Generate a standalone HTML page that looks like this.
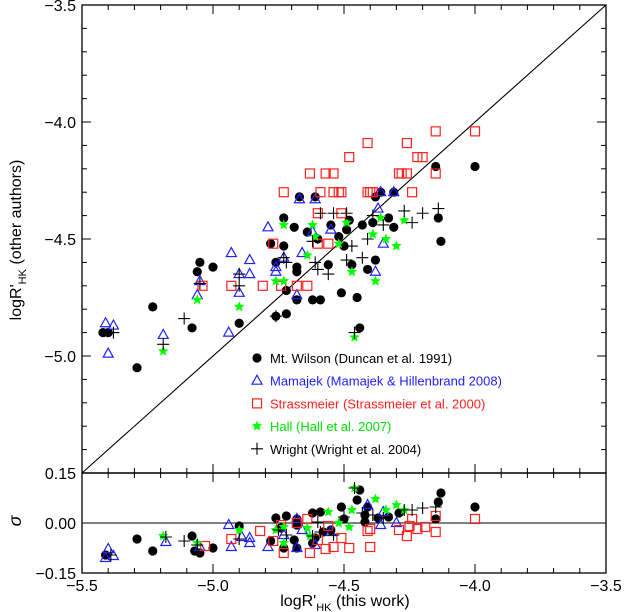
<!DOCTYPE html>
<html><head><meta charset="utf-8"><style>
body{margin:0;background:#fff}
svg{display:block;font-family:"Liberation Sans",sans-serif}
</style></head><body>
<svg id="chart" width="626" height="612" viewBox="0 0 626 612" xmlns="http://www.w3.org/2000/svg">
<rect width="626" height="612" fill="#fff"/>
<g id="axes"></g>
<g id="marks"></g>
<g id="legend"></g>
<text transform="translate(21,240) rotate(-90)" text-anchor="middle" font-size="16">logR'<tspan font-size="11" dy="5">HK</tspan><tspan dy="-5"> (other authors)</tspan></text>
<text transform="translate(21,521) rotate(-90)" text-anchor="middle" font-size="18" font-style="italic">σ</text>
<text x="345" y="606" text-anchor="middle" font-size="16">logR'<tspan font-size="11" dy="5">HK</tspan><tspan dy="-5"> (this work)</tspan></text>
</svg>
<script>
// ---- data ----
const mwX=[-5.42,-5.40,-5.29,-5.23,-5.08,-5.06,-5.05,-5.00,-4.90,-4.78,-4.76,-4.73,-4.73,-4.72,-4.76,-4.72,-4.69,-4.68,-4.68,-4.68,-4.67,-4.62,-4.59,-4.61,-4.64,-4.60,-4.56,-4.55,-4.52,-4.51,-4.49,-4.48,-4.50,-4.47,-4.45,-4.41,-4.38,-4.43,-4.39,-4.38,-4.36,-4.31,-4.33,-4.31,-4.14,-4.13,-4.15,-4.00,-4.44];
const mwY=[-4.90,-4.90,-5.05,-4.79,-4.88,-4.64,-4.60,-4.62,-4.86,-4.52,-4.60,-4.41,-4.53,-4.72,-4.83,-4.82,-4.45,-4.62,-4.64,-4.76,-4.32,-4.76,-4.76,-4.32,-4.47,-4.50,-4.61,-4.44,-4.49,-4.73,-4.46,-4.42,-4.53,-4.61,-4.75,-4.63,-4.59,-4.44,-4.43,-4.32,-4.30,-4.30,-4.41,-4.45,-4.41,-4.51,-4.19,-4.19,-4.88];
const mjX=[-5.41,-5.38,-5.40,-5.19,-5.06,-5.05,-4.93,-4.90,-4.90,-4.86,-4.86,-4.94,-4.79,-4.76,-4.76,-4.73,-4.68,-4.67,-4.66,-4.61,-4.62,-4.55,-4.37,-4.36,-4.31,-4.35,-4.38];
const mjY=[-4.86,-4.87,-4.99,-4.91,-4.74,-4.68,-4.56,-4.65,-4.73,-4.59,-4.65,-4.90,-4.45,-4.62,-4.64,-4.58,-4.74,-4.33,-4.56,-4.33,-4.47,-4.46,-4.37,-4.30,-4.30,-4.52,-4.64];
const stX=[-4.15,-4.00,-4.41,-4.26,-4.48,-4.22,-4.20,-4.63,-4.57,-4.54,-4.29,-4.28,-4.26,-4.15,-4.73,-4.59,-4.54,-4.52,-4.51,-4.41,-4.40,-4.39,-4.24,-4.60,-4.51,-4.77,-4.60,-4.56,-5.04,-4.93,-4.81,-4.74,-4.68,-4.64];
const stY=[-4.04,-4.04,-4.09,-4.09,-4.15,-4.15,-4.15,-4.22,-4.22,-4.22,-4.22,-4.22,-4.22,-4.22,-4.30,-4.30,-4.30,-4.30,-4.30,-4.30,-4.30,-4.30,-4.30,-4.39,-4.39,-4.52,-4.52,-4.52,-4.70,-4.70,-4.70,-4.70,-4.70,-4.70];
const haX=[-5.19,-5.06,-4.90,-4.76,-4.73,-4.73,-4.64,-4.62,-4.61,-4.49,-4.52,-4.47,-4.39,-4.34,-4.30,-4.36,-4.27,-4.38,-4.46];
const haY=[-4.98,-4.76,-4.79,-4.68,-4.68,-4.44,-4.57,-4.44,-4.49,-4.43,-4.52,-4.64,-4.48,-4.50,-4.53,-4.41,-4.42,-4.68,-4.92];
const wrX=[-5.11,-5.19,-5.05,-4.90,-4.90,-4.73,-4.72,-4.61,-4.60,-4.56,-4.62,-4.59,-4.54,-4.49,-5.38,-4.76,-4.49,-4.47,-4.43,-4.41,-4.39,-4.35,-4.27,-4.20,-4.14,-4.24,-4.46];
const wrY=[-4.84,-4.95,-4.69,-4.65,-4.70,-4.58,-4.60,-4.60,-4.63,-4.65,-4.51,-4.39,-4.39,-4.39,-4.90,-4.83,-4.59,-4.53,-4.58,-4.50,-4.40,-4.44,-4.38,-4.39,-4.37,-4.43,-4.90];
// residuals
const rmwX=[-5.41,-5.29,-5.23,-5.08,-5.07,-5.05,-5.00,-4.90,-4.78,-4.76,-4.72,-4.74,-4.69,-4.68,-4.68,-4.73,-4.62,-4.59,-4.62,-4.58,-4.51,-4.50,-4.45,-4.44,-4.42,-4.42,-4.41,-4.37,-4.33,-4.29,-4.14,-4.13,-4.15,-4.00,-4.68,-4.61,-4.55];
const rmwY=[-0.096,-0.048,-0.084,-0.039,-0.084,-0.09,-0.075,-0.009,-0.054,0.015,0.021,-0.015,-0.051,-0.006,0.012,-0.075,0.03,0.033,-0.06,-0.027,0.048,0.012,0.069,0.099,0.024,0.003,0.048,0.015,0.018,0.03,0.063,0.09,0.012,0.048,-0.075,-0.045,-0.021];
const rmjX=[-5.41,-5.40,-5.38,-5.18,-5.05,-4.94,-4.93,-4.89,-4.86,-4.86,-4.79,-4.73,-4.68,-4.68,-4.66,-4.61,-4.55,-4.41,-4.36,-4.35,-4.30];
const rmjY=[-0.105,-0.078,-0.099,-0.057,-0.072,-0.006,-0.072,-0.042,-0.045,-0.06,-0.072,-0.036,0.012,-0.075,-0.021,-0.066,-0.027,0.054,-0.006,0.033,0.0];
const rstX=[-5.03,-4.93,-4.82,-4.77,-4.74,-4.73,-4.68,-4.64,-4.63,-4.60,-4.57,-4.56,-4.54,-4.51,-4.48,-4.41,-4.40,-4.40,-4.29,-4.26,-4.25,-4.24,-4.22,-4.19,-4.15,-4.15,-4.00];
const rstY=[-0.069,-0.048,-0.024,-0.054,-0.006,-0.09,0.0,0.012,-0.09,-0.051,-0.078,-0.009,-0.072,-0.045,-0.075,-0.024,-0.072,-0.018,-0.021,-0.039,-0.009,0.012,-0.018,-0.012,0.021,-0.027,0.012];
const rhaX=[-5.19,-5.06,-4.90,-4.76,-4.73,-4.73,-4.64,-4.63,-4.56,-4.52,-4.48,-4.46,-4.47,-4.38,-4.30,-4.34,-4.27];
const rhaY=[-0.039,-0.06,-0.021,-0.021,-0.012,-0.06,-0.015,-0.039,0.033,0.0,-0.012,0.105,0.039,0.072,0.054,0.039,0.039];
const rwrX=[-5.39,-5.18,-5.11,-5.06,-4.90,-4.75,-4.72,-4.60,-4.59,-4.54,-4.50,-4.46,-4.43,-4.39,-4.35,-4.27,-4.24,-4.20,-4.15,-4.62];
const rwrY=[-0.096,-0.042,-0.054,-0.066,-0.048,-0.021,-0.036,0.003,-0.027,-0.036,0.018,0.105,0.03,0.024,0.015,0.039,0.039,0.045,0.048,-0.039];
const xTicks=[-5.5,-5.0,-4.5,-4.0,-3.5];
const xTickLabels=["−5.5","−5.0","−4.5","−4.0","−3.5"];
const yTicks=[-3.5,-4.0,-4.5,-5.0];
const yTickLabels=["−3.5","−4.0","−4.5","−5.0"];
const rTicks=[0.15,0.0,-0.15];
const rTickLabels=["0.15","0.00","−0.15"];
const legendLabels=["Mt. Wilson (Duncan et al. 1991)","Mamajek (Mamajek & Hillenbrand 2008)","Strassmeier (Strassmeier et al. 2000)","Hall (Hall et al. 2007)","Wright (Wright et al. 2004)"];

// ---- scales ----
const L=82,R=606,T=5,MB=473,BB=573;
const sx=v=>L+(v+5.5)*(R-L)/2;
const sy=v=>T+(-3.5-v)*(MB-T)/2;
const sr=v=>523-v*(50/0.15);
const NS="http://www.w3.org/2000/svg";
function mk(tag,parent,attrs){const e=document.createElementNS(NS,tag);for(const k in attrs)e.setAttribute(k,attrs[k]);parent.appendChild(e);return e;}
const ax=document.getElementById('axes'),mg=document.getElementById('marks'),lg=document.getElementById('legend');

// frames
let f1=mk('rect',ax,{x:L,y:T,width:R-L,height:MB-T,fill:'none',stroke:'#000','stroke-width':1.3});


let f2=mk('rect',ax,{x:L,y:MB,width:R-L,height:BB-MB,fill:'none',stroke:'#000','stroke-width':1.3});


let diag=mk('line',ax,{x1:sx(-5.5),y1:sy(-5.5),x2:sx(-3.5),y2:sy(-3.5),stroke:'#000','stroke-width':1.1});


let zl=mk('line',ax,{x1:L,y1:sr(0),x2:R,y2:sr(0),stroke:'#000','stroke-width':1.1});



// x ticks
for(let i=0;i<=20;i++){const v=-5.5+i*0.1,x=sx(v),maj=i%5===0,len=maj?9:5;
 for(const [y0,d] of [[T,1],[MB,-1],[MB,1],[BB,-1]]){
  let t=mk('line',ax,{x1:x,y1:y0,x2:x,y2:y0+d*len,stroke:'#000','stroke-width':1});
  
  }}
xTicks.forEach((v,i)=>{let t=mk('text',ax,{x:sx(v),y:591,'text-anchor':'middle','font-size':16});t.textContent=xTickLabels[i];
 
 });
// y ticks main
for(let i=0;i<=20;i++){const v=-3.5-i*0.1,y=sy(v),maj=i%5===0,len=maj?9:5;
 for(const [x0,d] of [[L,1],[R,-1]]){
  let t=mk('line',ax,{x1:x0,y1:y,x2:x0+d*len,y2:y,stroke:'#000','stroke-width':1});
  
  }}
yTicks.forEach((v,i)=>{let t=mk('text',ax,{x:76,y:sy(v)+6,'text-anchor':'end','font-size':16});t.textContent=yTickLabels[i];
 
 });
rTicks.forEach((v,i)=>{const y=sr(v);
 for(const [x0,d] of [[L,1],[R,-1]]){let t=mk('line',ax,{x1:x0,y1:y,x2:x0+d*9,y2:y,stroke:'#000','stroke-width':1});
  
  }
 let t=mk('text',ax,{x:76,y:y+6,'text-anchor':'end','font-size':16});t.textContent=rTickLabels[i];
 
 });

// markers
const BLUE='#2020ff',RED='#ff2020',GREEN='#00ff00';
function star(cx,cy,r){let p=[];for(let i=0;i<10;i++){const a=-Math.PI/2+i*Math.PI/5,rr=i%2?r*0.45:r;p.push((cx+rr*Math.cos(a)).toFixed(1)+','+(cy+rr*Math.sin(a)).toFixed(1));}return p.join(' ');}
function marker(type,x,y,parent){
 let e;
 if(type===0)e=mk('circle',parent,{cx:x,cy:y,r:4.6,fill:'#000'});
 else if(type===1)e=mk('polygon',parent,{points:`${x},${y-5.5} ${x-5},${y+3.5} ${x+5},${y+3.5}`,fill:'none',stroke:BLUE,'stroke-width':1.2});
 else if(type===2)e=mk('rect',parent,{x:x-4.5,y:y-4.5,width:9,height:9,fill:'none',stroke:RED,'stroke-width':1.2});
 else if(type===3)e=mk('polygon',parent,{points:star(x,y,5.5),fill:GREEN});
 else e=mk('path',parent,{d:`M${x-6},${y}H${x+6}M${x},${y-6}V${y+6}`,stroke:'#000','stroke-width':1.1});
 return e;}
const names=['mt-wilson-point','mamajek-point','strassmeier-point','hall-point','wright-point'];
const mainSets=[[mwX,mwY],[mjX,mjY],[stX,stY],[hqX=haX,haY],[wrX,wrY]];
const resSets=[[rmwX,rmwY],[rmjX,rmjY],[rstX,rstY],[rhaX,rhaY],[rwrX,rwrY]];
mainSets.forEach((s,k)=>s[0].forEach((v,i)=>{const e=marker(k,sx(v),sy(s[1][i]),mg);
 
 }));
resSets.forEach((s,k)=>s[0].forEach((v,i)=>{const e=marker(k,sx(v),sr(s[1][i]),mg);
 
 }));

// legend
const lcol=['#000',BLUE,RED,'#00e000','#000'];
legendLabels.forEach((s,k)=>{const y=358+k*22.7;
 const m=marker(k,257,y,lg);
 
 
 const t=mk('text',lg,{x:270,y:y+5,'font-size':13,fill:lcol[k]});t.textContent=s;
 
 });
</script>
</body></html>
